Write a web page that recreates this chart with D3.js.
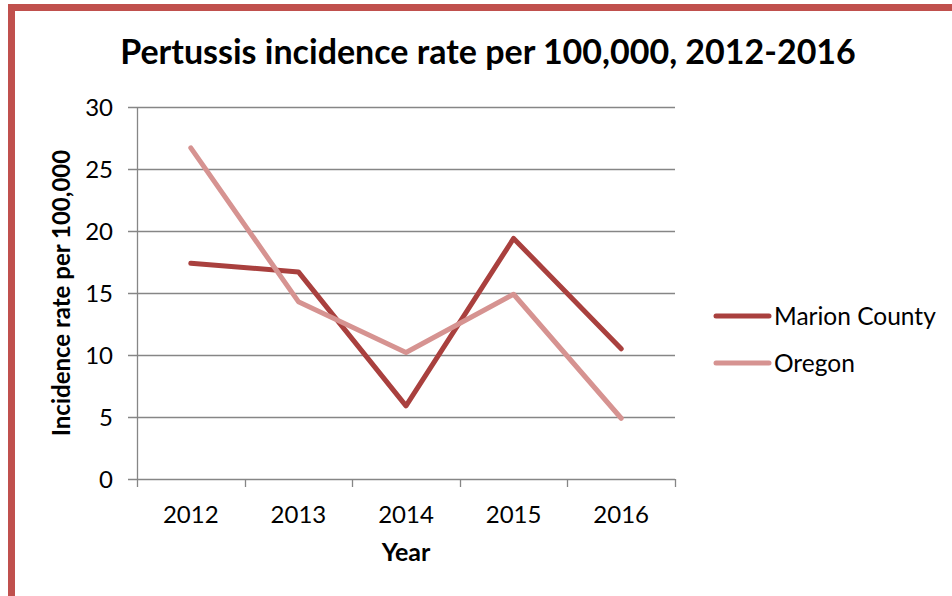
<!DOCTYPE html>
<html>
<head>
  <script src="https://d3js.org/d3.v7.min.js"></script>
  <style>
    body { margin: 0; background: #fff; }
    text { font-family: Lato, "Liberation Sans", sans-serif; fill: #000; }
  </style>
</head>
<body>
  <script>
    // Data
    const years = ["2012", "2013", "2014", "2015", "2016"];
    const marion = [17.4, 16.7, 5.9, 19.4, 10.5];
    const oregon = [26.7, 14.3, 10.2, 14.9, 4.9];
    const yTicks = [0, 5, 10, 15, 20, 25, 30];
    const seriesNames = ["Marion County", "Oregon"];
    const seriesColors = ["#a9403e", "#d69391"];

    const w = 952, h = 596;
    const plotLeft = 137, plotRight = 675, plotTop = 107, plotBottom = 479;

    const svg = d3.select("body").append("svg")
      .attr("width", w)
      .attr("height", h);

    // frame
    svg.append("path")
      .attr("d", `M11.5,${h} L11.5,7.5 L${w},7.5`)
      .attr("fill", "none")
      .attr("stroke", "#c0504d")
      .attr("stroke-width", 7);

    const x = d3.scaleBand().domain(years).range([plotLeft, plotRight]);
    const y = d3.scaleLinear().domain([0, 30]).range([plotBottom, plotTop]);

    // gridlines
    svg.append("g")
      .selectAll("line")
      .data(yTicks)
      .enter().append("line")
      .attr("x1", plotLeft - 9)
      .attr("x2", plotRight)
      .attr("y1", d => Math.round(y(d)) + 0.5)
      .attr("y2", d => Math.round(y(d)) + 0.5)
      .attr("stroke", "#868686")
      .attr("stroke-width", 1.3);

    // y axis line
    svg.append("line")
      .attr("x1", plotLeft + 0.5).attr("x2", plotLeft + 0.5)
      .attr("y1", plotTop).attr("y2", plotBottom + 8)
      .attr("stroke", "#868686").attr("stroke-width", 1.3);

    // x ticks at category boundaries
    const bounds = years.map(d => x(d)).concat([plotRight]).slice(1);
    svg.append("g")
      .selectAll("line")
      .data(bounds)
      .enter().append("line")
      .attr("x1", d => Math.round(d) + 0.5)
      .attr("x2", d => Math.round(d) + 0.5)
      .attr("y1", plotBottom)
      .attr("y2", plotBottom + 8)
      .attr("stroke", "#868686")
      .attr("stroke-width", 1.3);

    // y tick labels
    svg.append("g")
      .selectAll("text")
      .data(yTicks)
      .enter().append("text")
      .attr("x", 113)
      .attr("y", d => y(d) + 8.5)
      .attr("text-anchor", "end")
      .style("font-size", "24px")
      .text(d => d);

    // x tick labels
    svg.append("g")
      .selectAll("text")
      .data(years)
      .enter().append("text")
      .attr("x", d => x(d) + x.bandwidth() / 2)
      .attr("y", 523)
      .attr("text-anchor", "middle")
      .style("font-size", "24px")
      .text(d => d);

    // lines
    const line = d3.line()
      .x((d, i) => x(years[i]) + x.bandwidth() / 2)
      .y(d => y(d));

    [marion, oregon].forEach((s, i) => {
      svg.append("path")
        .datum(s)
        .attr("d", line)
        .attr("fill", "none")
        .attr("stroke", seriesColors[i])
        .attr("stroke-width", 5)
        .attr("stroke-linejoin", "round")
        .attr("stroke-linecap", "round");
    });

    // title
    svg.append("text")
      .attr("x", 488)
      .attr("y", 64)
      .attr("text-anchor", "middle")
      .style("font-size", "34px")
      .style("font-weight", "bold")
      .text("Pertussis incidence rate per 100,000, 2012-2016");

    // axis titles
    svg.append("text")
      .attr("x", 406)
      .attr("y", 561)
      .attr("text-anchor", "middle")
      .style("font-size", "25px")
      .style("font-weight", "bold")
      .text("Year");

    svg.append("text")
      .attr("transform", "translate(70," + (plotTop + plotBottom) / 2 + ") rotate(-90)")
      .attr("text-anchor", "middle")
      .style("font-size", "24px")
      .style("font-weight", "bold")
      .text("Incidence rate per 100,000");

    // legend
    const legend = svg.append("g")
      .selectAll("g")
      .data(seriesNames)
      .enter().append("g")
      .attr("transform", (d, i) => "translate(716," + (316 + i * 47) + ")");
    legend.append("line")
      .attr("x1", 0).attr("x2", 53)
      .attr("stroke", (d, i) => seriesColors[i])
      .attr("stroke-width", 5)
      .attr("stroke-linecap", "round");
    legend.append("text")
      .attr("x", 58)
      .attr("y", 8.5)
      .style("font-size", "24.5px")
      .text(d => d);
  </script>
</body>
</html>
